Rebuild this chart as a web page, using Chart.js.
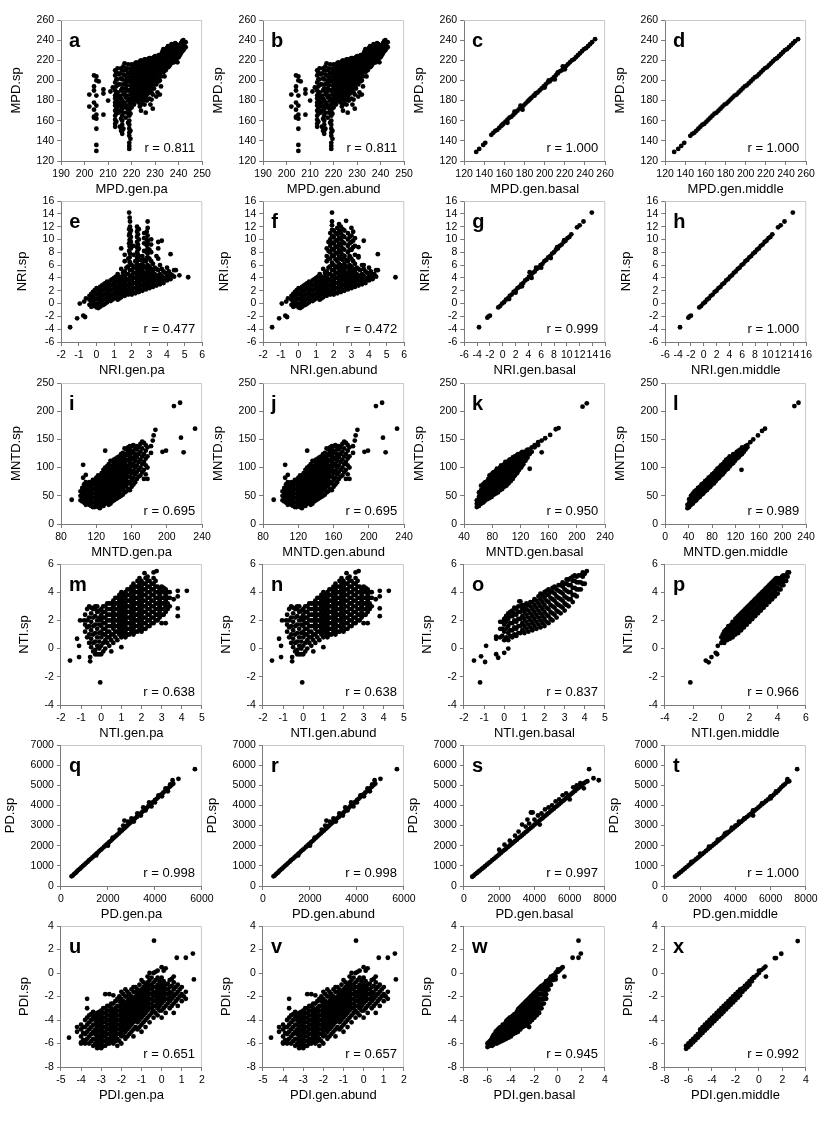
<!DOCTYPE html>
<html lang="en">
<head>
<meta charset="UTF-8">
<title>Species vs genus phylogenetic metrics</title>
<script src="https://cdn.jsdelivr.net/npm/chart.js"></script>
<style>
  body { margin: 0; background: #fff; }
  #wrap { position: relative; width: 836px; height: 1124px; }
  #wrap canvas { position: absolute; }
</style>
</head>
<body>
<div id="wrap"></div>
<script>
// ---- data: [x, [y, y, ...]] columns or [x, y] pairs ----
const panelIds = ['a','b','c','d','e','f','g','h','i','j','k','l','m','n','o','p','q','r','s','t','u','v','w','x'];
const xTitles = ['MPD.gen.pa','MPD.gen.abund','MPD.gen.basal','MPD.gen.middle',
  'NRI.gen.pa','NRI.gen.abund','NRI.gen.basal','NRI.gen.middle',
  'MNTD.gen.pa','MNTD.gen.abund','MNTD.gen.basal','MNTD.gen.middle',
  'NTI.gen.pa','NTI.gen.abund','NTI.gen.basal','NTI.gen.middle',
  'PD.gen.pa','PD.gen.abund','PD.gen.basal','PD.gen.middle',
  'PDI.gen.pa','PDI.gen.abund','PDI.gen.basal','PDI.gen.middle'];
const yTitles = ['MPD.sp','NRI.sp','MNTD.sp','NTI.sp','PD.sp','PDI.sp'];
const rValues = ['0.811','0.811','1.000','1.000','0.477','0.472','0.999','1.000',
  '0.695','0.695','0.950','0.989','0.638','0.638','0.837','0.966',
  '0.998','0.998','0.997','1.000','0.651','0.657','0.945','0.992'];
// [min, max, step]
const xRanges = [[190,250,10],[190,250,10],[120,260,20],[120,260,20],
  [-2,6,1],[-2,6,1],[-6,16,2],[-6,16,2],
  [80,240,40],[80,240,40],[40,240,40],[0,240,40],
  [-2,5,1],[-2,5,1],[-2,5,1],[-4,6,2],
  [0,6000,2000],[0,6000,2000],[0,8000,2000],[0,8000,2000],
  [-5,2,1],[-5,2,1],[-8,4,2],[-8,4,2]];
const yRanges = [[120,260,20],[-6,16,2],[0,250,50],[-4,6,2],[0,7000,1000],[-8,4,2]];

const mpdPa = [
  [202,[186,174]],[204,[205,194,190,178,171,164,163]],[205,[204,200,185,175,166,162,152,136,130]],
  [206,[199]],[208,[191,187,166]],[210,[180]],[211,[189]],[212,[193]],
  [213,[210,205,198,190,185,182,178,175,170,165,161,157,154]],[214,[212,201,188,181,174]],
  [215,[207,196,185,178,170,154]],[216,[210,201,192,180,172,165,160,156,150,147]],
  [217,[217,205,197,188,178]],[218,[212,203,195,185,175,168]],
  [219,[208,200,190,182,176,170,165,160,156,152,148,145,138,135,132]],
  [220,[216,210,204,198,192,186,180,173]],[221,[214,207,201,195,189,183,176]],
  [222,[218,212,206,200,194,188,182]],[223,[216,210,203,197,191,185,178]],
  [224,[220,213,207,200,194,188,183,176,170]],[225,[218,211,205,198,192,186,180]],
  [226,[221,215,209,203,196,190,184,168]],[227,[219,213,206,200,194,187]],
  [228,[222,216,210,204,198,191,176]],[229,[220,214,208,201,195,186,172]],
  [230,[224,218,212,206,200]],[231,[222,216,210,203,188]],[232,[225,219,213,207,200,186]],
  [233,[228,222,217,211]],[234,[230,224,219,213,204]],[235,[232,227,222,217]],
  [236,[234,229,224,219,214]],[237,[236,231,226,221]],[238,[234,229,224,218]],
  [239,[236,231,226,221]],[240,[233,228,223]],[241,[237,232,227]],[242,[240,235,230]],[243,[238,233]]
];
const mpdPaFill = [
  [213.5,[208,201,194,187,180,172,167,159]],[214.5,[206,196,184,177,168]],
  [215.5,[212,202,190,182,174,162,150]],[216.5,[214,206,196,186,176,168,152]],
  [217.5,[210,200,192,183,173,163]],[218.5,[216,207,199,190,180,171,158]],
  [219.5,[212,204,195,186,179,173,167,150,142]],[220.5,[213,207,201,195,189,183,177]],
  [221.5,[217,210,204,198,192,186,180]],[222.5,[215,209,203,197,191,185,179]],
  [223.5,[219,213,206,200,194,188,182,174]],[224.5,[216,210,203,197,191,186,180]],
  [225.5,[221,214,208,201,195,189,183,176]],[226.5,[218,212,206,199,193,187,180]],
  [227.5,[222,216,209,203,197,190,182]],[228.5,[219,213,207,201,194,188,181]],
  [229.5,[223,217,211,204,198,192]],[230.5,[221,215,209,203,196,184]],
  [231.5,[225,219,213,207,199]],[232.5,[222,216,210,204,194]],[233.5,[231,225,219,214,208]],
  [234.5,[227,221,216,210]],[235.5,[234,229,224,219,213]],[236.5,[231,226,221,216]],
  [237.5,[233,228,223,218]],[238.5,[237,231,226,221]],[239.5,[233,229,224,218]],
  [240.5,[235,230,225]],[241.5,[239,234,229]],[242.5,[237,232]]
];
const mpdBasal = [
  [132,129],[135,132],[139,136],[141,138],[147,146],[149,148],[151,150],[153,151],[155,153],[157,155],
  [159,157],[161,159],[163,161],[165,163],[167,164],[169,166],[171,168],[173,170],[175,172],[177,174],
  [179,175],[181,177],[183,179],[185,181],[187,183],[189,185],[191,187],[193,188],[195,190],[197,192],
  [199,194],[201,196],[203,198],[205,199],[207,201],[209,203],[211,205],[213,207],[215,209],[217,210],
  [219,212],[221,214],[223,216],[225,218],[227,220],[229,221],[231,223],[233,225],[235,227],[237,229],
  [239,231],[241,232],[243,234],[245,236],[247,238],[250,241],
  [158,156],[163,158],[170,169],[176,175],[178,171],[184,180],[186,182],[190,185],[200,193],
  [204,200],[210,201],[213,208],[218,214],[220,211]
];
const mpdMiddle = [
  [129,129],[133,132],[136,135],[139,138],[145,145],[147,147],[149,148],[151,150],[153,152],[155,154],
  [157,156],[159,157],[161,159],[163,161],[165,163],[167,165],[169,167],[171,168],[173,170],[175,172],
  [177,174],[179,176],[181,177],[183,179],[185,181],[187,183],[189,185],[191,186],[193,188],[195,190],
  [197,192],[199,194],[201,195],[203,197],[205,199],[207,201],[209,203],[211,204],[213,206],[215,208],
  [217,210],[219,212],[221,213],[223,215],[225,217],[227,219],[229,221],[231,222],[233,224],[235,226],
  [237,228],[239,230],[241,231],[243,233],[245,235],[247,237],[249,239],[252,241]
];

const nriBand = [
  [-0.4,[1.2,0.6,-0.2]],[-0.2,[1.8,1.0,0.2,-0.4]],[0,[2.4,1.6,0.8,0,-0.6]],[0.2,[2.6,1.8,1.0,0.2,-0.5]],
  [0.4,[3.0,2.2,1.4,0.6,-0.2]],[0.6,[3.4,2.6,1.8,1.0,0.2]],[0.8,[3.6,2.8,2.0,1.2,0.4]],
  [1.0,[4.0,3.2,2.4,1.6,0.8]],[1.2,[4.6,3.6,2.8,2.0,1.2,0.6]],[1.4,[5.4,4.2,3.4,2.6,1.8,1.0]],
  [1.6,[6.6,5.0,4.2,3.4,2.6,1.8,1.2]],[1.8,[7.0,5.8,4.6,3.6,2.8,2.0,1.4]],[2.0,[6.0,5.2,4.4,3.6,2.8,2.0,1.4]],
  [2.2,[6.6,5.8,4.8,4.0,3.2,2.4,1.6]],[2.4,[6.0,5.0,4.2,3.4,2.6,1.8]],[2.6,[7.4,6.2,5.2,4.4,3.6,2.8,2.0]],
  [2.8,[6.6,5.6,4.6,3.8,3.0,2.2]],[3.0,[8.4,7.0,5.8,4.8,4.0,3.2,2.4]],[3.2,[6.2,5.0,4.2,3.4,2.6]],
  [3.4,[7.4,5.4,4.4,3.6,2.8]],[3.6,[6.0,4.6,3.8,3.0]],[3.8,[5.0,4.0,3.2]],[4.0,[5.6,4.4,3.6]],
  [4.2,[4.6,3.8]],[4.4,[5.2,4.2]]
];
const nriBandFill = [
  [-0.3,[1.5,0.9,0.2,-0.5]],[-0.1,[2.1,1.4,0.6,-0.2]],[0.1,[2.2,1.4,0.6,-0.2,-0.7]],
  [0.3,[2.8,2.0,1.2,0.4,-0.3]],[0.5,[3.2,2.4,1.6,0.8,0.0]],[0.7,[3.1,2.2,1.4,0.6]],
  [0.9,[3.8,3.0,2.2,1.4,0.6]],[1.1,[4.2,3.4,2.6,1.8,1.0]],[1.3,[4.0,3.2,2.4,1.6,0.8]],
  [1.5,[4.8,3.8,3.0,2.2,1.4]],[1.7,[5.6,4.6,3.8,3.0,2.2,1.6]],[1.9,[6.4,5.2,4.2,3.2,2.4,1.7]],
  [2.1,[5.6,4.8,4.0,3.2,2.4,1.7]],[2.3,[6.2,5.4,4.4,3.6,2.8,2.0]],[2.5,[6.8,5.6,4.6,3.8,3.0,2.2]],
  [2.7,[6.8,5.8,4.8,4.0,3.2,2.4]],[2.9,[7.2,6.0,5.2,4.2,3.4,2.6]],[3.1,[6.6,5.4,4.4,3.6,2.8]],
  [3.3,[5.6,4.6,3.8,3.0]],[3.5,[5.2,4.2,3.4]],[3.7,[5.4,4.3,3.5]],[3.9,[4.8,3.8]],[4.1,[5.0,4.1]],[4.3,[4.4]]
];
const nriLow = [[-1.5,-3.7],[-1.1,-2.3],[-0.75,-1.9],[-0.65,-2.1],[-0.95,0.0],[-0.6,0.8],[-0.7,0.3]];
const nriSpikesPa = [
  [1.85,[14.2,11.6,10.6,9.4,8.2]],[1.9,[12.8,12.0,11.0,10.0,9.0,7.8]],[1.95,[11.4,10.4,9.6,8.6]],
  [1.88,[13.4,10.9,9.9,8.9,7.2,6.5]],[2.35,[11.6,10.8,9.2,8.4,7.6,6.8]],[2.85,[11.2,10.0,9.1,8.0,7.1]],
  [2.3,[12.0,11.2,10.4,9.6,8.8,8.0,7.2]],[2.4,[11.6,10.0,8.6,7.4]],[2.1,[9.0,7.6]],
  [2.7,[11.0,10.2,9.4,8.2]],[2.9,[12.8,11.8,10.6,9.6,8.6,7.8]],[3.1,[10.0,9.2,8.0]],
  [3.5,[9.6,8.6,7.0]],[3.7,[9.8]],[1.4,[8.6]],[1.6,[7.6]],[4.2,[7.7]],[4.5,[5.2]],[4.7,[4.4]],[5.2,[4.1]]
];
const nriSpikesAbund = [
  [1.6,[8.6,7.4]],[1.8,[11.0,10.0,9.0,8.0]],[1.9,[14.2,12.8,12.2,11.5,10.5,9.5,8.5,7.5]],
  [2.0,[11.4,10.4,9.4,8.4,7.4]],[2.2,[11.8,10.8,9.8,8.8,7.8,6.8]],[2.4,[12.0,11.0,10.0,9.0,8.0,7.0]],
  [2.6,[11.4,10.4,9.4,8.4,7.4]],[2.7,[12.9]],[2.8,[11.0,10.0,9.0,8.0]],[3.0,[11.8,10.6,9.6,8.4]],
  [3.2,[10.2,9.0,7.6]],[3.4,[8.8,7.2]],[3.7,[9.8,6.0]],[4.5,[7.7,5.2]],[4.3,[4.6]],[5.5,[4.1]],
  [1.7,[9.6,8.2,7.0]],[2.1,[11.0,9.9,8.9,7.9,6.9]],[2.3,[12.4,11.3,10.3,9.3,8.3,7.3]],
  [2.5,[11.6,10.6,9.6,8.6,7.6]],[2.9,[10.4,9.4,8.4,7.4]],[3.1,[11.2,9.8,8.8]]
];
const nriLine = [
  [-3.7,-3.7],[-2.4,-2.2],[-2.2,-2.0],[-2.0,-1.9],
  [-0.7,-0.6],[-0.4,-0.4],[-0.1,0.0],[0.2,0.2],[0.5,0.6],[0.8,0.8],[1.1,1.2],[1.4,1.4],[1.7,1.8],[2.0,2.0],
  [2.3,2.4],[2.6,2.6],[2.9,3.0],[3.2,3.2],[3.5,3.6],[3.8,3.8],[4.1,4.2],[4.4,4.4],[4.7,4.8],[5.0,5.0],
  [5.3,5.4],[5.6,5.6],[5.9,6.0],[6.2,6.2],[6.5,6.6],[6.8,6.8],[7.1,7.2],[7.4,7.4],[7.7,7.8],[8.0,8.0],
  [8.3,8.4],[8.6,8.6],[8.9,9.0],[9.2,9.2],[9.5,9.6],[9.8,9.8],[10.1,10.2],[10.4,10.4],[10.7,10.8],
  [11.6,11.9],[12.0,12.2],[12.6,12.8],[13.9,14.2]
];
const nriBasalExtra = [[1.0,0.7],[2.0,1.7],[3.0,2.7],[4.2,4.9],[4.5,4.0],[6.0,5.6],[7.5,7.1],[8.5,8.8],[9.6,9.9],[5.2,5.6]];

const mntdPa = [
  [102,[42,50,58]],[106,[38,46,54,62,70]],[110,[36,44,52,60,68]],[114,[32,40,48,56,64,72]],
  [118,[30,38,46,54,62,70,78]],[122,[30,38,46,54,62,70,78,86]],[126,[34,42,50,58,66,74,82,90]],
  [130,[36,44,52,60,68,76,84,92,100]],[134,[34,42,50,58,66,74,82,90,98,106]],
  [138,[40,48,56,64,72,80,88,96,104,112]],[142,[44,52,60,68,76,84,92,100,108,116]],
  [146,[48,56,64,72,80,88,96,104,112,120]],[150,[52,62,70,78,86,94,102,110,118,126]],
  [154,[58,68,78,88,96,104,112,122,132]],[158,[60,72,84,96,108,120,132,138]],
  [162,[70,82,94,106,118,130,140]],[166,[80,92,104,118,132,138]],[170,[86,100,114,128,142]],
  [174,[80,96,110,124,144]],[178,[80,100,120,136]],[182,[126,138]]
];
const mntdPaFill = [
  [104,[40,48,56,64]],[108,[34,42,50,58,66,74]],[112,[34,42,50,58,66,74]],[116,[30,38,46,54,62,70,78]],
  [120,[34,42,50,58,66,74,82]],[124,[28,36,44,52,60,68,76,84]],[128,[32,40,48,56,64,72,80,88,96]],
  [132,[38,46,54,62,70,78,86,94,102]],[136,[36,46,54,62,70,78,86,94,102,112]],
  [140,[42,50,58,66,74,82,90,98,106,114]],[144,[46,54,62,70,78,86,94,102,110,118]],
  [148,[50,60,68,76,84,92,100,108,116,124]],[152,[56,66,74,82,90,100,108,116,124,134]],
  [156,[62,74,84,92,102,114,126,136]],[160,[66,78,90,102,114,126,138]],[164,[74,88,100,112,124,136]],
  [168,[84,96,110,124,136]],[172,[92,106,120,134,146]],[176,[88,104,116,130,140]]
];
const mntdPaOut = [[92,43],[105,105],[105,82],[108,87],[130,130],[195,128],[199,130],[208,209],[215,215],
  [216,153],[219,127],[232,169],[185,157],[187,167],[184,148]];
const mntdBasal = [
  [58,[30,36,42]],[61,[32,40,48,56]],[64,[36,44,52,60,68]],[67,[38,46,54,62,70]],[70,[42,50,58,66,74]],
  [73,[44,52,60,68,76]],[76,[46,54,62,70,78,86]],[79,[48,56,64,72,80,88]],[82,[52,60,68,76,84,92]],
  [85,[54,62,70,78,86,94]],[88,[56,64,72,80,88,96]],[91,[60,68,76,84,92,100]],[94,[62,70,78,86,94,102]],
  [97,[66,74,82,90,98,106]],[100,[68,76,84,92,100,108]],[103,[72,80,88,96,104,112]],
  [106,[76,84,92,100,108,114]],[109,[80,88,96,104,112,118]],[112,[86,94,102,110,120]],
  [115,[90,98,106,114,122]],[118,[96,104,112,120]],[121,[100,110,118,126]],[124,[106,116,124]],
  [127,[112,120,128]],[130,[118,126,132]],[133,[98,124,132]],[136,[128,136]],[140,[136,140]],
  [145,[140,145]],[150,[127,148]],[155,[152]],[162,[158]],[170,[168]],[174,[170]],[208,[208]],[214,[214]]
];
const mntdBasalFill = [
  [62.5,[36,44,52]],[68.5,[40,48,56,64,72]],[74.5,[48,56,64,72,80]],[80.5,[52,60,68,76,84,90]],
  [86.5,[58,66,74,82,90,98]],[92.5,[64,72,80,88,96,104]],[98.5,[70,78,86,94,102,110]],
  [104.5,[76,84,92,100,108,114]],[110.5,[84,92,100,108,116]],[116.5,[94,102,110,118,124]],
  [122.5,[104,112,120,128]],[128.5,[116,124,130]]
];
const mntdMiddle = [
  [38,[28,34]],[41,[30,38,44]],[44,[34,40,46,50]],[47,[36,42,48,54]],[50,[40,46,52,58]],[53,[42,48,54,60]],
  [56,[46,52,58,64]],[59,[48,54,60,66]],[62,[52,58,64,70]],[65,[54,60,66,72]],[68,[58,64,70,76]],
  [71,[60,66,72,78]],[74,[64,70,76,82]],[77,[66,72,78,84]],[80,[70,76,82,88]],[83,[72,78,84,90]],
  [86,[76,82,88,94]],[89,[80,86,92,98]],[92,[82,88,94,100]],[95,[86,92,98,104]],[98,[88,94,100,106]],
  [101,[92,98,104,110]],[104,[96,102,108,114]],[107,[98,104,110,116]],[110,[102,108,114,120]],
  [113,[106,112,118]],[116,[108,114,120,124]],[119,[112,118,124]],[122,[116,122,128]],[125,[118,124,130]],
  [128,[122,128,132]],[131,[124,130,136]],[134,[128,134]],[137,[132,138]],[140,[136,140]],
  [145,[145]],[150,[150]],[158,[157]],[165,[165]],[170,[169]],[130,[96]],[220,[209]],[227,[215]]
];

const ntiPa = [
  [-0.8,[1.2,1.7,2.4]],[-0.6,[0.4,1.0,1.6,2.2,3.0]],[-0.4,[-0.2,0.4,1.0,1.6,2.2,2.8]],
  [-0.2,[-0.4,0.2,0.8,1.4,2.0,2.6,3.0]],[0.0,[-0.4,0.2,0.8,1.2,1.6,2.0,2.4,2.8]],
  [0.2,[0.0,0.6,1.0,1.4,1.8,2.2,2.6,3.0]],[0.4,[0.2,0.8,1.2,1.6,2.0,2.4,2.8,3.2]],
  [0.6,[0.4,1.0,1.4,1.8,2.2,2.6,3.0,3.4]],[0.8,[0.6,1.2,1.6,2.0,2.4,2.8,3.2,3.6]],
  [1.0,[0.8,1.2,1.6,2.0,2.4,2.8,3.2,3.6,4.0]],[1.2,[0.8,1.2,1.6,2.0,2.4,2.8,3.2,3.6,4.0]],
  [1.4,[1.0,1.4,1.8,2.2,2.6,3.0,3.4,3.8,4.2]],[1.6,[1.0,1.4,1.8,2.2,2.6,3.0,3.4,3.8,4.2,4.6]],
  [1.8,[1.2,1.6,2.0,2.4,2.8,3.2,3.6,4.0,4.4,4.8]],[2.0,[1.2,1.6,2.0,2.4,2.8,3.2,3.6,4.0,4.4,4.8]],
  [2.2,[1.4,1.8,2.2,2.6,3.0,3.4,3.8,4.2,4.6,5.0]],[2.4,[1.6,2.0,2.4,2.8,3.2,3.6,4.0,4.4,4.8]],
  [2.6,[1.8,2.2,2.6,3.0,3.4,3.8,4.2,4.6,5.0]],[2.8,[2.0,2.4,2.8,3.2,3.6,4.0,4.4]],
  [3.0,[1.8,2.4,2.8,3.2,3.6,4.0,4.4]],[3.2,[2.6,3.0,3.4,3.8,4.2]],[3.4,[3.0,3.6,4.0]]
];
const ntiPaFill = [
  [-0.7,[0.8,1.5,2.0,2.8]],[-0.5,[0.1,0.7,1.3,1.9,2.5]],[-0.3,[-0.1,0.5,1.1,1.7,2.3,2.8]],
  [-0.1,[0.0,0.5,1.1,1.7,2.2,2.7]],[0.1,[-0.2,0.4,1.0,1.4,1.8,2.2,2.6,3.0]],
  [0.3,[0.4,0.8,1.2,1.6,2.0,2.4,2.8,3.2]],[0.5,[0.6,1.0,1.6,2.0,2.4,2.8,3.2]],
  [0.7,[0.8,1.2,1.6,2.0,2.4,2.8,3.2,3.6]],[0.9,[1.0,1.4,1.8,2.2,2.6,3.0,3.4,3.8]],
  [1.1,[1.0,1.4,1.8,2.2,2.6,3.0,3.4,3.8]],[1.3,[1.0,1.4,1.8,2.2,2.6,3.0,3.4,3.8,4.2]],
  [1.5,[1.2,1.6,2.0,2.4,2.8,3.2,3.6,4.0,4.4]],[1.7,[1.2,1.6,2.0,2.4,2.8,3.2,3.6,4.0,4.4]],
  [1.9,[1.4,1.8,2.2,2.6,3.0,3.4,3.8,4.2,4.6,5.0]],[2.1,[1.4,1.8,2.2,2.6,3.0,3.4,3.8,4.2,4.6]],
  [2.3,[1.6,2.0,2.4,2.8,3.2,3.6,4.0,4.4,4.8]],[2.5,[1.8,2.2,2.6,3.0,3.4,3.8,4.2,4.6]],
  [2.7,[2.0,2.4,2.8,3.2,3.6,4.0,4.4,4.8]],[2.9,[2.2,2.6,3.0,3.4,3.8,4.2]],
  [3.1,[2.4,2.8,3.2,3.6,4.0,4.3]],[3.3,[2.8,3.2,3.6,4.0]]
];
const ntiPaOut = [[-1.55,-0.85],[-1.1,-0.6],[-1.05,2.0],[-0.85,2.0],[-1.2,0.7],[-1.1,0.2],[-0.05,-2.4],
  [-0.55,-0.9],[-0.55,-0.6],[-0.3,-0.4],[-0.1,-0.4],[2.15,5.35],[2.6,5.4],[2.75,5.5],[2.3,5.1],
  [3.8,4.1],[3.8,3.7],[3.8,2.85],[3.8,2.3],[4.25,4.1],[3.6,3.5],[3.2,1.8],[1.0,0.1],[0.5,-0.2],[-0.5,2.9],[-0.3,3.0]];
const ntiBasal = [
  [-0.2,[0.8,1.4,1.9]],[0.0,[0.6,1.2,1.7,2.1]],[0.2,[0.6,1.1,1.6,2.1,2.5]],[0.4,[0.8,1.3,1.8,2.3,2.7]],
  [0.6,[0.9,1.4,1.9,2.4,2.8]],[0.8,[1.1,1.6,2.1,2.6,3.0,3.35]],[1.0,[1.1,1.6,2.1,2.6,3.0]],
  [1.2,[1.2,1.7,2.2,2.7,3.1]],[1.4,[1.3,1.8,2.3,2.8,3.3]],[1.6,[1.4,1.9,2.4,2.9,3.4]],
  [1.8,[1.5,2.0,2.5,3.0,3.5,3.9]],[2.0,[1.6,2.1,2.6,3.1,3.6,4.0]],[2.2,[1.8,2.3,2.8,3.3,3.8,4.2]],
  [2.4,[2.0,2.5,3.0,3.5,4.0,4.3]],[2.6,[2.2,2.7,3.2,3.7,4.2]],[2.8,[2.5,3.0,3.5,4.0,4.5]],
  [3.0,[2.7,3.2,3.7,4.2,4.6]],[3.2,[3.0,3.5,4.0,4.5,4.9]],[3.4,[3.3,3.8,4.3,4.8,5.1]],
  [3.6,[3.7,4.2,4.7,5.1]],[3.8,[4.2,4.7,5.2]],[4.0,[4.6,5.3]],[4.1,[5.5]]
];
const ntiBasalFill = [
  [-0.1,[0.9,1.4,1.9]],[0.1,[0.8,1.4,1.9,2.3]],[0.3,[0.9,1.3,1.8,2.3,2.6]],[0.5,[1.0,1.5,2.0,2.5,2.9]],
  [0.7,[1.1,1.6,2.1,2.6,3.0]],[0.9,[1.3,1.8,2.3,2.8,3.1]],[1.1,[1.4,1.9,2.4,2.8,3.2]],
  [1.3,[1.5,2.0,2.5,3.0,3.3]],[1.5,[1.6,2.1,2.6,3.1,3.5]],[1.7,[1.7,2.2,2.7,3.2,3.7]],
  [1.9,[1.8,2.3,2.8,3.3,3.8]],[2.1,[1.9,2.4,2.9,3.4,3.8,4.1]],[2.3,[2.1,2.6,3.1,3.6,4.0]],
  [2.5,[2.4,2.9,3.4,3.9,4.4]],[2.7,[2.6,3.1,3.6,4.1,4.5]],[2.9,[2.9,3.4,3.9,4.4,4.7]],
  [3.1,[3.1,3.6,4.1,4.6,4.9]],[3.3,[3.5,4.0,4.5,5.0]],[3.5,[3.8,4.3,4.8,5.2]],[3.7,[4.2,4.7,5.2]],
  [3.9,[4.6,5.1,5.4]]
];
const ntiBasalOut = [[-1.5,-0.85],[-1.15,-0.55],[-0.95,-0.95],[-0.9,0.2],[-1.2,-2.4],[-0.4,-0.4],[-0.3,-0.65],
  [-0.4,0.7],[-0.4,0.85],[0.0,-0.3],[0.2,0.0],[0.75,3.35],[0.1,2.3]];
const ntiMiddle = [
  [0.0,[0.4,0.8]],[0.2,[0.4,0.8,1.2]],[0.4,[0.6,1.0,1.4]],[0.6,[0.7,1.1,1.5]],[0.8,[0.8,1.2,1.6,1.9]],
  [1.0,[1.0,1.4,1.8,2.1]],[1.2,[1.1,1.5,1.9,2.3]],[1.4,[1.3,1.7,2.1,2.5]],[1.6,[1.5,1.9,2.3,2.7]],
  [1.8,[1.7,2.1,2.5,2.9]],[2.0,[1.9,2.3,2.7,3.1]],[2.2,[2.1,2.5,2.9,3.3]],[2.4,[2.3,2.7,3.1,3.5]],
  [2.6,[2.5,2.9,3.3,3.7]],[2.8,[2.7,3.1,3.5,3.9]],[3.0,[2.9,3.3,3.7,4.1]],[3.2,[3.1,3.5,3.9,4.3]],
  [3.4,[3.3,3.7,4.1,4.5]],[3.6,[3.5,3.9,4.3,4.7]],[3.8,[3.7,4.1,4.5,4.9]],[4.0,[3.9,4.3,4.7,5.0]],
  [4.2,[4.2,4.6,5.0]],[4.4,[4.5,4.9,5.2]],[4.6,[4.8,5.2]],[4.8,[5.4]],
  [-2.2,[-2.4]],[-1.1,[-0.85]],[-0.9,[-0.97]],[-0.7,[-0.6]],[-0.3,[-0.4]],[-0.25,[0.2]],[-0.4,[-0.3]]
];
const ntiMiddleFill = [
  [0.1,[0.6,1.0]],[0.3,[0.6,1.0,1.3]],[0.5,[0.8,1.2,1.6]],[0.7,[0.9,1.3,1.7]],[0.9,[1.0,1.4,1.8]],
  [1.1,[1.2,1.6,2.0,2.2]],[1.3,[1.3,1.7,2.1,2.4]],[1.5,[1.5,1.9,2.3,2.6]],[1.7,[1.7,2.1,2.5,2.8]],
  [1.9,[1.9,2.3,2.7,3.0]],[2.1,[2.1,2.5,2.9,3.2]],[2.3,[2.3,2.7,3.1,3.4]],[2.5,[2.5,2.9,3.3,3.6]],
  [2.7,[2.7,3.1,3.5,3.8]],[2.9,[2.9,3.3,3.7,4.0]],[3.1,[3.1,3.5,3.9,4.2]],[3.3,[3.3,3.7,4.1,4.4]],
  [3.5,[3.5,3.9,4.3,4.6]],[3.7,[3.7,4.1,4.5,4.8]],[3.9,[3.9,4.3,4.7,5.0]],[4.1,[4.2,4.6,4.9]],
  [4.3,[4.5,4.8,5.1]],[4.5,[4.8,5.1]],[4.7,[5.1,5.4]]
];

const pdPa = [
  [450,480],[500,520],[560,590],[620,650],[680,720],[740,790],[800,850],[870,920],[940,1000],[1000,1060],
  [1070,1140],[1140,1210],[1200,1280],[1270,1350],[1340,1420],[1410,1500],[1480,1570],[1550,1640],
  [1620,1720],[1690,1790],[1760,1860],[1830,1940],[1900,2010],[1970,2090],[2040,2160],[2110,2230],
  [2180,2310],[2250,2390],[2320,2460],[2390,2540],[2460,2610],[2530,2690],[2600,2760],[2670,2840],
  [2740,2910],[2810,2990],[2880,3060],[2950,3140],[3020,3210],[3090,3290],[3160,3360],[3230,3430],
  [3300,3510],[3370,3580],[3440,3660],[3510,3730],[3580,3810],[3650,3880],[3720,3960],[3790,4030],
  [3860,4110],[3930,4180],[4000,4260],[4070,4330],[4140,4400],[4210,4480],[4280,4550],[4350,4630],
  [4420,4700],[4490,4780],[4560,4850],[4630,4930],[4700,5000],[4780,5080],
  [2500,2800],[2650,3000],[2700,3250],[2850,3200],[3000,3350],[3100,3200],[3250,3600],[3400,3500],
  [3500,3900],[3600,3750],[3750,4150],[3850,3950],[4000,4150],[4150,4500],[4300,4450],[4450,4850],
  [4550,4700],[4650,5050],[4750,5250],[5000,5320],[5700,5800],[1500,1520],[2000,2000],[2200,2400]
];
const pdBasal = [
  [470,460],[560,520],[650,590],[740,650],[830,720],[920,780],[1010,850],[1100,910],[1200,980],[1300,1060],
  [1400,1130],[1500,1200],[1600,1280],[1700,1350],[1800,1420],[1900,1500],[2000,1570],[2100,1640],
  [2200,1720],[2300,1790],[2400,1860],[2500,1940],[2600,2010],[2700,2080],[2800,2160],[2900,2230],
  [3000,2300],[3100,2380],[3200,2450],[3300,2520],[3400,2600],[3500,2670],[3600,2740],[3700,2820],
  [3800,2890],[3900,2960],[4000,3040],[4100,3110],[4200,3180],[4300,3260],[4400,3330],[4500,3400],
  [4600,3480],[4700,3550],[4800,3620],[4900,3700],[5000,3770],[5100,3840],[5200,3920],[5300,3990],
  [5400,4060],[5500,4140],[5600,4210],[5700,4280],[5800,4360],[5900,4430],[6000,4500],[6100,4580],
  [6200,4650],[6300,4720],[6400,4800],[6500,4870],[6600,4940],[6700,5020],[6800,5090],[6900,5160],[7000,5200],
  [2000,1800],[2300,2050],[2600,2250],[2900,2500],[3100,2700],[3300,3050],[3500,2950],[3700,3100],
  [3800,3650],[4000,3300],[4200,3500],[4400,3600],[4300,3050],[4600,3800],[4800,3900],[5000,4000],
  [5200,4200],[5400,4300],[5600,4500],[5800,4600],[6000,4300],[6200,4900],[6400,5000],[6600,5100],
  [6800,4850],[3900,3650],[3600,3300],[7100,5800],[7650,5250],[7350,5350]
];
const pdMiddle = [
  [570,465],[680,540],[790,620],[900,700],[1010,780],[1120,860],[1230,940],[1340,1020],[1450,1100],
  [1560,1180],[1670,1260],[1780,1340],[1890,1420],[2000,1500],[2110,1580],[2220,1660],[2330,1740],
  [2440,1820],[2550,1900],[2660,1980],[2770,2060],[2880,2140],[2990,2220],[3100,2300],[3210,2380],
  [3320,2460],[3430,2540],[3540,2620],[3650,2700],[3760,2780],[3870,2860],[3980,2940],[4090,3020],
  [4200,3100],[4310,3180],[4420,3260],[4530,3340],[4640,3420],[4750,3500],[4860,3580],[4970,3660],
  [5080,3740],[5190,3820],[5300,3900],[5410,3980],[5520,4060],[5630,4140],[5740,4220],[5850,4300],
  [5960,4380],[6070,4460],[6180,4540],[6290,4620],[6400,4700],[6500,4800],[6600,4900],[6700,4980],
  [6800,5050],[6920,5160],
  [1500,1200],[2000,1600],[2500,1950],[3000,2300],[3500,2650],[4000,3000],[4500,3350],[5000,3750],
  [5500,4100],[6000,4450],[6300,4700],[6000,4350],[3400,2600],[3800,2900],[4200,3200],
  [6950,5300],[7050,5200],[7500,5800],[5000,3500]
];

const pdiPa = [
  [-4.0,[-6.0,-5.4,-4.8,-4.4]],[-3.8,[-5.8,-5.2,-4.6,-4.0]],[-3.6,[-6.0,-5.4,-4.8,-4.2,-3.6]],
  [-3.4,[-6.2,-5.6,-5.0,-4.4,-3.8,-3.3]],[-3.2,[-6.2,-5.8,-5.4,-5.0,-4.6,-4.2,-3.8,-3.4]],
  [-3.0,[-6.4,-6.0,-5.6,-5.2,-4.8,-4.4,-4.0,-3.6,-3.2]],[-2.8,[-6.2,-5.8,-5.4,-5.0,-4.6,-4.2,-3.8,-3.4,-3.0,-1.8]],
  [-2.6,[-6.0,-5.6,-5.2,-4.8,-4.4,-4.0,-3.6,-3.2,-2.8]],[-2.4,[-6.0,-5.6,-5.2,-4.8,-4.4,-4.0,-3.6,-3.2,-2.6,-1.9]],
  [-2.2,[-6.2,-5.6,-5.2,-4.8,-4.4,-4.0,-3.6,-3.2,-2.8,-2.2]],
  [-2.0,[-6.0,-5.4,-5.0,-4.6,-4.2,-3.8,-3.4,-3.0,-2.6,-2.2,-1.6]],
  [-1.8,[-5.6,-5.0,-4.6,-4.2,-3.8,-3.4,-3.0,-2.6,-2.0,-1.4]],[-1.6,[-5.2,-4.6,-4.2,-3.8,-3.4,-3.0,-2.6,-2.2,-1.8]],
  [-1.4,[-5.4,-4.8,-4.2,-3.8,-3.4,-3.0,-2.6,-2.2,-1.6,-1.2]],[-1.2,[-4.8,-4.2,-3.8,-3.4,-3.0,-2.6,-2.2,-1.8,-1.4]],
  [-1.0,[-5.0,-4.4,-3.8,-3.4,-3.0,-2.6,-2.2,-1.8,-1.4,-0.6]],[-0.8,[-4.6,-4.0,-3.4,-3.0,-2.6,-2.2,-1.8,-1.4,-1.0]],
  [-0.6,[-4.2,-3.6,-3.0,-2.6,-2.2,-1.8,-1.4,-1.0,-0.6,0.0]],[-0.4,[-3.8,-3.2,-2.8,-2.4,-2.0,-1.6,-1.2,-0.8,0.0]],
  [-0.2,[-3.6,-3.0,-2.6,-2.2,-1.8,-1.4,-1.0,-0.4,0.2]],[0.0,[-3.8,-3.2,-2.6,-2.2,-1.8,-1.4,-1.0,-0.4,0.5]],
  [0.2,[-3.4,-2.8,-2.2,-1.8,-1.4,-1.0,0.4]],[0.4,[-3.0,-2.4,-2.0,-1.6,-1.2,-0.6]],
  [0.6,[-3.4,-2.6,-2.0,-1.4,-0.8,-0.3]],[0.8,[-2.8,-2.2,-1.6,-1.0]],[1.0,[-2.4,-1.8,-1.2]],[1.2,[-2.2,-1.6]]
];
const pdiPaFill = [
  [-3.9,[-5.7,-5.1,-4.6]],[-3.7,[-5.6,-5.0,-4.4,-3.8]],[-3.5,[-5.8,-5.2,-4.6,-4.0,-3.5]],
  [-3.3,[-6.0,-5.6,-5.2,-4.8,-4.4,-4.0,-3.6]],[-3.1,[-6.1,-5.7,-5.3,-4.9,-4.5,-4.1,-3.7,-3.3]],
  [-2.9,[-6.2,-5.8,-5.4,-5.0,-4.6,-4.2,-3.8,-3.4,-3.0]],[-2.7,[-6.0,-5.6,-5.2,-4.8,-4.4,-4.0,-3.6,-3.2,-2.8]],
  [-2.5,[-5.8,-5.4,-5.0,-4.6,-4.2,-3.8,-3.4,-3.0,-2.6]],[-2.3,[-5.8,-5.4,-5.0,-4.6,-4.2,-3.8,-3.4,-3.0,-2.4]],
  [-2.1,[-5.8,-5.2,-4.8,-4.4,-4.0,-3.6,-3.2,-2.8,-2.4,-2.0]],[-1.9,[-5.3,-4.8,-4.4,-4.0,-3.6,-3.2,-2.8,-2.4,-1.8]],
  [-1.7,[-5.4,-4.8,-4.4,-4.0,-3.6,-3.2,-2.8,-2.4,-2.0,-1.6]],[-1.5,[-5.0,-4.4,-4.0,-3.6,-3.2,-2.8,-2.4,-2.0,-1.4]],
  [-1.3,[-4.6,-4.0,-3.6,-3.2,-2.8,-2.4,-2.0,-1.6,-1.2]],[-1.1,[-4.6,-4.0,-3.6,-3.2,-2.8,-2.4,-2.0,-1.6,-1.0]],
  [-0.9,[-4.2,-3.6,-3.2,-2.8,-2.4,-2.0,-1.6,-1.2,-0.8]],[-0.7,[-3.8,-3.2,-2.8,-2.4,-2.0,-1.6,-1.2,-0.8,-0.3]],
  [-0.5,[-3.4,-3.0,-2.6,-2.2,-1.8,-1.4,-1.0,-0.4]],[-0.3,[-3.4,-2.8,-2.4,-2.0,-1.6,-1.2,-0.6,0.1]],
  [-0.1,[-3.2,-2.8,-2.4,-2.0,-1.6,-1.2,-0.7]],[0.1,[-3.0,-2.4,-2.0,-1.6,-1.2,-0.7,0.2]],
  [0.3,[-2.6,-2.2,-1.8,-1.4,-0.9]],[0.5,[-2.8,-2.2,-1.7,-1.1,-0.5]],[0.7,[-2.4,-1.8,-1.2]],
  [0.9,[-2.0,-1.4]],[1.1,[-2.0]]
];
const pdiPaOut = [[-4.6,-5.5],[-4.0,-5.9],[-3.8,-6.0],[-3.7,-2.2],[-3.7,-3.0],[-4.2,-4.6],[-4.2,-5.0],
  [-0.38,2.75],[0.75,1.3],[1.2,1.3],[1.55,1.65],[1.6,-0.55],[-2.6,-1.8],[-3.2,-6.4]];
const pdiBasal = [
  [-6.0,[-6.3,-6.0]],[-5.8,[-6.2,-5.8]],[-5.6,[-6.2,-5.8,-5.5]],[-5.4,[-6.0,-5.6,-5.2]],
  [-5.2,[-6.0,-5.6,-5.2,-4.9]],[-5.0,[-5.9,-5.5,-5.1,-4.7]],[-4.8,[-5.8,-5.4,-5.0,-4.6]],
  [-4.6,[-5.7,-5.3,-4.9,-4.5]],[-4.4,[-5.6,-5.2,-4.8,-4.4,-4.1]],[-4.2,[-5.5,-5.1,-4.7,-4.3,-3.9]],
  [-4.0,[-5.4,-5.0,-4.6,-4.2,-3.8]],[-3.8,[-5.2,-4.8,-4.4,-4.0,-3.6]],[-3.6,[-5.1,-4.7,-4.3,-3.9,-3.5]],
  [-3.4,[-5.0,-4.6,-4.2,-3.8,-3.4,-3.1]],[-3.2,[-4.8,-4.4,-4.0,-3.6,-3.2,-2.9]],
  [-3.0,[-4.6,-4.2,-3.8,-3.4,-3.0,-2.7]],[-2.8,[-4.5,-4.1,-3.7,-3.3,-2.9,-2.5]],
  [-2.6,[-4.4,-4.0,-3.6,-3.2,-2.8,-2.3]],[-2.4,[-4.2,-3.8,-3.4,-3.0,-2.6,-2.1]],
  [-2.2,[-4.0,-3.6,-3.2,-2.8,-2.4,-1.9]],[-2.0,[-3.8,-3.4,-3.0,-2.6,-2.2,-1.7]],
  [-1.8,[-3.6,-3.2,-2.8,-2.4,-2.0,-1.5]],[-1.6,[-3.4,-3.0,-2.6,-2.2,-1.8,-1.3]],
  [-1.4,[-3.0,-2.6,-2.2,-1.8,-1.4,-1.1]],[-1.2,[-2.6,-2.2,-1.8,-1.4,-1.0]],[-1.0,[-2.2,-1.8,-1.4,-1.0,-0.7]],
  [-0.8,[-1.4,-1.0,-0.6]],[-0.6,[-1.0,-0.6,-0.3]],[-0.4,[-0.6,-0.2]],[-0.2,[-0.3,0.0]],[0.0,[0.1,0.3]],
  [0.2,[0.3]],[0.4,[0.5]],
  [-0.2,[-0.55]],[0.55,[-0.3]],[-2.45,[-4.6]],[1.25,[1.3]],[1.75,[1.3,2.75]],[1.95,[1.65]]
];
const pdiBasalFill = [
  [-5.9,[-6.2,-5.9]],[-5.7,[-6.0,-5.7]],[-5.5,[-6.1,-5.7,-5.3]],[-5.3,[-5.8,-5.4,-5.0]],
  [-5.1,[-5.8,-5.4,-5.0,-4.8]],[-4.9,[-5.7,-5.3,-4.9,-4.6]],[-4.7,[-5.6,-5.2,-4.8,-4.4]],
  [-4.5,[-5.5,-5.1,-4.7,-4.3]],[-4.3,[-5.4,-5.0,-4.6,-4.2,-4.0]],[-4.1,[-5.3,-4.9,-4.5,-4.1,-3.8]],
  [-3.9,[-5.2,-4.8,-4.4,-4.0,-3.7]],[-3.7,[-5.0,-4.6,-4.2,-3.8,-3.5]],[-3.5,[-4.9,-4.5,-4.1,-3.7,-3.3]],
  [-3.3,[-4.8,-4.4,-4.0,-3.6,-3.2,-3.0]],[-3.1,[-4.6,-4.2,-3.8,-3.4,-3.0,-2.8]],
  [-2.9,[-4.4,-4.0,-3.6,-3.2,-2.8,-2.6]],[-2.7,[-4.3,-3.9,-3.5,-3.1,-2.7,-2.4]],
  [-2.5,[-4.2,-3.8,-3.4,-3.0,-2.6,-2.2]],[-2.3,[-4.0,-3.6,-3.2,-2.8,-2.4,-2.0]],
  [-2.1,[-3.8,-3.4,-3.0,-2.6,-2.2,-1.8]],[-1.9,[-3.6,-3.2,-2.8,-2.4,-2.0,-1.6]],
  [-1.7,[-3.4,-3.0,-2.6,-2.2,-1.8,-1.4]],[-1.5,[-3.0,-2.6,-2.2,-1.8,-1.4,-1.2]],
  [-1.3,[-2.6,-2.2,-1.8,-1.4,-1.1]],[-1.1,[-2.0,-1.6,-1.2,-0.9]],[-0.9,[-1.4,-1.1,-0.8]],
  [-0.7,[-0.9,-0.5]],[-0.5,[-0.5,-0.3]],[-0.3,[-0.2]],[-0.1,[0.1]],[0.1,[0.2]],[0.3,[0.4]]
];
const pdiMiddle = [
  [-6.2,[-6.45,-6.2]],[-6.0,[-6.3,-6.0]],[-5.8,[-6.1,-5.8]],[-5.6,[-5.9,-5.6]],[-5.4,[-5.7,-5.4]],
  [-5.2,[-5.5,-5.2]],[-5.0,[-5.3,-5.0,-4.8]],[-4.8,[-5.1,-4.8,-4.6]],[-4.6,[-4.9,-4.6,-4.4]],
  [-4.4,[-4.7,-4.4,-4.2]],[-4.2,[-4.5,-4.2,-4.0]],[-4.0,[-4.3,-4.0,-3.8]],[-3.8,[-4.1,-3.8,-3.6]],
  [-3.6,[-3.9,-3.6,-3.4]],[-3.4,[-3.7,-3.4,-3.2]],[-3.2,[-3.5,-3.2,-3.0]],[-3.0,[-3.3,-3.0,-2.8]],
  [-2.8,[-3.1,-2.8,-2.6]],[-2.6,[-2.9,-2.6,-2.4]],[-2.4,[-2.7,-2.4,-2.2]],[-2.2,[-2.5,-2.2,-2.0]],
  [-2.0,[-2.3,-2.0,-1.8]],[-1.8,[-2.1,-1.8,-1.6]],[-1.6,[-1.9,-1.6,-1.4]],[-1.4,[-1.6,-1.3]],
  [-1.2,[-1.4,-1.1]],[-1.0,[-1.2,-0.9]],[-0.8,[-1.0,-0.7]],[-0.6,[-0.7,-0.5]],[-0.4,[-0.4]],
  [-0.2,[-0.2]],[0.0,[0.0,0.2]],[0.2,[0.25]],[0.4,[0.4]],[0.55,[0.55]],
  [-0.45,[-0.35]],[0.6,[-0.3]],[1.35,[1.27]],[1.45,[1.27]],[1.9,[1.64]],[3.3,[2.72]]
];

// which lists make up each panel, in panel order a..x
const panelData = [
  [mpdPa,mpdPaFill],[mpdPa,mpdPaFill],[mpdBasal],[mpdMiddle],
  [nriBand,nriBandFill,nriLow,nriSpikesPa],[nriBand,nriBandFill,nriLow,nriSpikesAbund],[nriLine,nriBasalExtra],[nriLine],
  [mntdPa,mntdPaFill,mntdPaOut],[mntdPa,mntdPaFill,mntdPaOut],[mntdBasal,mntdBasalFill],[mntdMiddle],
  [ntiPa,ntiPaFill,ntiPaOut],[ntiPa,ntiPaFill,ntiPaOut],[ntiBasal,ntiBasalFill,ntiBasalOut],[ntiMiddle,ntiMiddleFill],
  [pdPa],[pdPa],[pdBasal],[pdMiddle],
  [pdiPa,pdiPaFill,pdiPaOut],[pdiPa,pdiPaFill,pdiPaOut],[pdiBasal,pdiBasalFill],[pdiMiddle]
];

// ---- layout ----
const colLeft = [61, 263, 464, 665];
const rowTop = [20, 201, 383, 564, 745, 926];
const PLOT = 141;
const FONT = '"Liberation Sans", Arial, sans-serif';

Chart.defaults.font.family = FONT;
Chart.defaults.color = '#000';

function toPoints(lists) {
  const out = [];
  lists.forEach(list => list.forEach(p => {
    if (Array.isArray(p[1])) p[1].forEach(y => out.push({x: p[0], y: y}));
    else out.push({x: p[0], y: p[1]});
  }));
  return out;
}

// light frame on top/right, panel letter and r value
const panelDeco = {
  id: 'panelDeco',
  afterDraw(chart, args, opts) {
    const ctx = chart.ctx, a = chart.chartArea;
    ctx.save();
    ctx.strokeStyle = '#c8c8c8';
    ctx.lineWidth = 1;
    ctx.beginPath();
    ctx.moveTo(a.left, a.top + 0.5);
    ctx.lineTo(a.right - 0.5, a.top + 0.5);
    ctx.lineTo(a.right - 0.5, a.bottom);
    ctx.stroke();
    ctx.fillStyle = '#000';
    ctx.textBaseline = 'alphabetic';
    ctx.font = 'bold 20px ' + FONT;
    ctx.textAlign = 'left';
    ctx.fillText(opts.letter, a.left + 8, a.top + 27);
    ctx.font = '13px ' + FONT;
    ctx.textAlign = 'right';
    ctx.fillText('r = ' + opts.r, a.right - 7, a.bottom - 9);
    ctx.restore();
  }
};

function axis(range, title, isX) {
  return {
    type: 'linear',
    min: range[0], max: range[1],
    border: {display: true, color: '#7a7a7a', width: 1},
    grid: {display: true, drawOnChartArea: false, drawTicks: true, tickLength: 4, color: '#7a7a7a'},
    ticks: {stepSize: range[2], autoSkip: false, maxRotation: 0, padding: 3,
            font: {size: 10.5}, callback: v => String(v)},
    title: {display: true, text: title, font: {size: 13},
            padding: isX ? {top: 0, bottom: 2} : {top: 2, bottom: 9}},
    afterFit: isX ? (s => { s.height = 38; }) : undefined
  };
}

const wrap = document.getElementById('wrap');
panelIds.forEach((id, i) => {
  const row = Math.floor(i / 4), col = i % 4;
  const cv = document.createElement('canvas');
  cv.width = 220;
  cv.height = 10 + PLOT + 38;
  wrap.appendChild(cv);

  const chart = new Chart(cv, {
    type: 'scatter',
    data: {datasets: [{
      data: toPoints(panelData[i]),
      backgroundColor: '#000',
      borderWidth: 0,
      pointRadius: 2.4,
      pointHoverRadius: 2.4
    }]},
    options: {
      responsive: false,
      animation: false,
      events: [],
      layout: {padding: {top: 10, right: 20, left: 0, bottom: 0}},
      plugins: {
        legend: {display: false},
        tooltip: {enabled: false},
        panelDeco: {letter: id, r: rValues[i]}
      },
      scales: {
        x: axis(xRanges[i], xTitles[i], true),
        y: axis(yRanges[row], yTitles[row], false)
      }
    },
    plugins: [panelDeco]
  });

  // make the plot area exactly PLOT px wide, then line it up with the grid
  const extra = (chart.chartArea.right - chart.chartArea.left) - PLOT;
  chart.options.layout.padding.right = 20 + extra;
  chart.update();
  cv.style.left = (colLeft[col] - chart.chartArea.left) + 'px';
  cv.style.top = (rowTop[row] - chart.chartArea.top) + 'px';
});
</script>
</body>
</html>
